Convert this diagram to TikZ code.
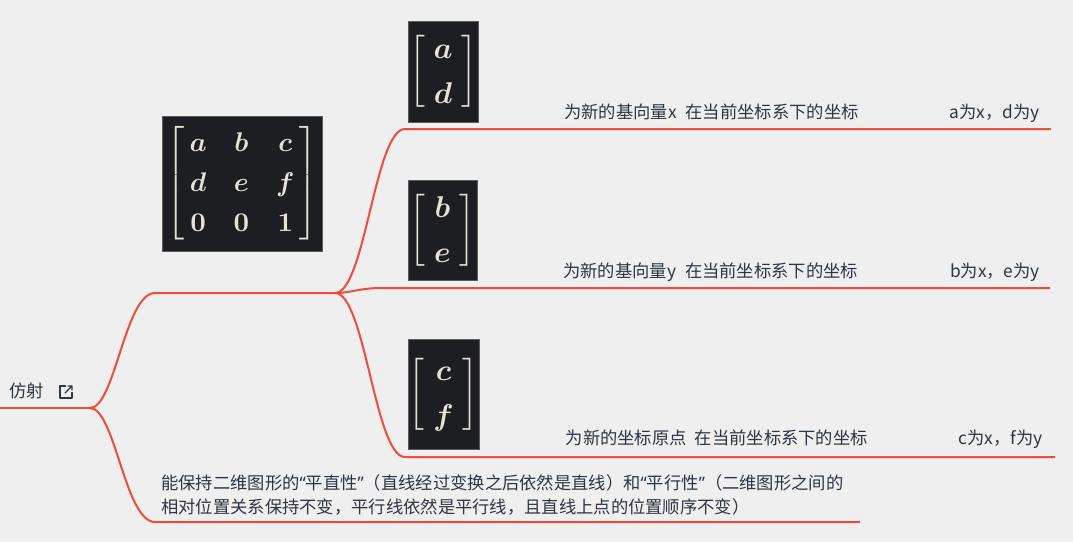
\documentclass[tikz,border=0pt]{standalone}
\usepackage{amsmath,amssymb}
\usepackage{graphicx}
\usepackage{fontspec}
\setmainfont{Noto Sans CJK SC}
\newfontfamily\quotefont{Noto Sans}
\usepackage{xcolor}
\usepackage{tikz}
\usetikzlibrary{calc,positioning}

\definecolor{canvas}{RGB}{239,239,239}
\definecolor{branchred}{RGB}{240,76,62}
\definecolor{inkgray}{RGB}{44,54,68}
\definecolor{boxbg}{RGB}{28,30,33}
\definecolor{boxedge}{RGB}{92,92,92}
\definecolor{mathfg}{RGB}{230,226,216}

\newcommand{\brmat}[1]{\left[\mkern3mu\begin{matrix}#1\end{matrix}\mkern3mu\right]}
\newcommand{\brstrut}{\vcenter{\hrule height 11.5pt depth 11.5pt width 0pt}}
\newcommand{\brcol}[1]{\left[\brstrut\mkern4.5mu\smash{\begin{matrix}#1\end{matrix}}\mkern4.5mu\right]}
\newcommand{\bigmath}[1]{\scalebox{2.7}{\boldmath\renewcommand\arraystretch{1.23}\setlength\arraycolsep{5pt}$\brmat{#1}$}}
\newcommand{\colmath}[1]{\scalebox{3.0}{\boldmath\renewcommand\arraystretch{1.25}$\brcol{#1}$}}
\newcommand{\qopen}{{\quotefont “}}
\newcommand{\qclose}{{\quotefont ”}}

\begin{document}
\begin{tikzpicture}[x=1pt, y=-1pt]

	\tikzset{
	branch/.style={draw=branchred, line width=2pt},
	topic/.style={font=\fontsize{17.3}{24}\selectfont, text=inkgray, inner sep=0pt},
	matbox/.style={fill=boxbg, draw=boxedge, line width=0.5pt, text=mathfg, inner sep=0pt},
	icon/.style={draw=inkgray, line width=1.1pt, line cap=round, line join=round}
}

\useasboundingbox (0,0) rectangle (1073,542);
\fill[canvas] (0,0) rectangle (1073,542);

% root topic
\node[topic, anchor=base west](root) at (9,397){仿射};
\draw[icon] (65.5,386) -- (60,386) -- (60,398) -- (72,398) -- (72,392.5);
\draw[icon] (65,393) -- (72,386) (68,386) -- (72,386) -- (72,390);

% matrix and column vectors
\node[matbox, minimum width=160pt, minimum height=135pt](mat) at (242,183.5){\bigmath{a&b&c\\d&e&f\\0&0&1}};
\node[matbox, minimum width=70pt, minimum height=101pt](vecA) at (443,71.5){\colmath{a\\d}};
\node[matbox, minimum width=69pt, minimum height=100pt](vecB) at (442.5,230.5){\colmath{b\\e}};
\node[matbox, minimum width=71pt, minimum height=110pt](vecC) at (443.5,394){\colmath{c\\f}};

% descriptions
\node[topic, anchor=base west](descA) at (564,118){为新的基向量x\hspace{9pt}在当前坐标系下的坐标};
\node[topic, anchor=base east](pairA) at (1040,118){a为x，d为y};
\node[topic, anchor=base west](descB) at (563,277.5){为新的基向量y\hspace{9pt}在当前坐标系下的坐标};
\node[topic, anchor=base east](pairB) at (1040,277.5){b为x，e为y};
\node[topic, anchor=base west](descC) at (565.5,444.5){为新的坐标原点\hspace{8pt}在当前坐标系下的坐标};
\node[topic, anchor=base east](pairC) at (1042.5,444.5){c为x，f为y};
\node[topic, anchor=north west, align=left](note) at (161,474){能保持二维图形的\qopen 平直性\qclose（直线经过变换之后依然是直线）和\qopen 平行性\qclose（二维图形之间的\\相对位置关系保持不变，平行线依然是平行线，且直线上点的位置顺序不变）};

\coordinate (r0) at (0,408);
\coordinate (f0) at (90,408);
\coordinate (f1) at (335,293);
\coordinate (endA) at (1051,129);
\coordinate (endB) at (1050,288);
\coordinate (endC) at (1055,457);
\coordinate (endN) at (860,522);

\draw[branch] (r0) -- (f0);
\draw[branch] (f0) .. controls (115,408) and (125,293) .. (155,293) -- (f1);
\draw[branch] (f0) .. controls (115,408) and (125,522) .. (155,522) -- (endN);
\draw[branch] (f1) .. controls (365,293) and (375,129) .. (405,129) -- (endA);
\draw[branch] (f1) .. controls (352,293) and (358,288) .. (382,288) -- (endB);
\draw[branch] (f1) .. controls (365,293) and (375,457) .. (405,457) -- (endC);

\end{tikzpicture}
\end{document}
